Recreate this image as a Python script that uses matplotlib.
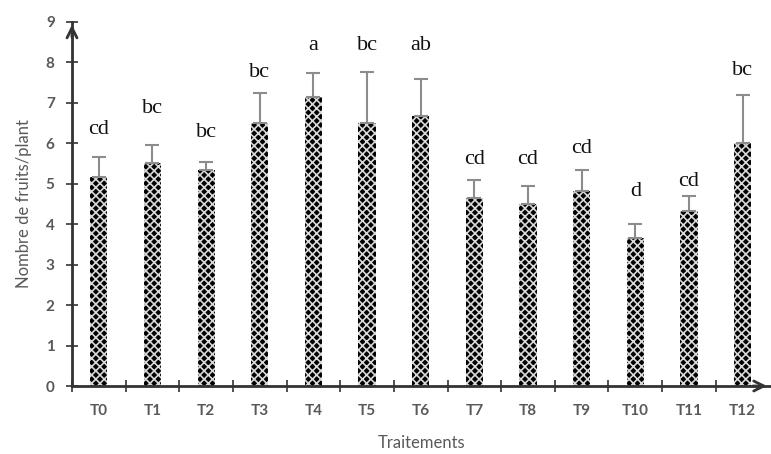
import matplotlib
import numpy as np

matplotlib.use("Agg")
import matplotlib.pyplot as plt

labels = ["T0", "T1", "T2", "T3", "T4", "T5", "T6", "T7", "T8", "T9", "T10", "T11", "T12"]
means = [5.17, 5.51, 5.33, 6.50, 7.15, 6.50, 6.67, 4.65, 4.50, 4.83, 3.65, 4.33, 6.00]
errs = [0.50, 0.45, 0.22, 0.75, 0.60, 1.27, 0.93, 0.45, 0.45, 0.52, 0.35, 0.37, 1.20]
groups = ["cd", "bc", "bc", "bc", "a", "bc", "ab", "cd", "cd", "cd", "d", "cd", "bc"]
# height (in data units) where each letter group sits
group_y = [6.33, 6.87, 6.26, 7.76, 8.43, 8.43, 8.43, 5.61, 5.61, 5.86, 4.80, 5.05, 7.81]

GRAY = "#595959"
DARK = "#333333"
plt.rcParams["font.family"] = ["Lato", "DejaVu Sans"]
plt.rcParams["hatch.linewidth"] = 1.2

fig = plt.figure(figsize=(7.71, 4.54), dpi=100)
ax = fig.add_axes([72 / 771, 68 / 454, (771 - 72) / 771, (386 - 22) / 454])

x = np.arange(len(labels))
ax.bar(x, means, width=0.32, color="black", edgecolor="0.85", hatch="xxxx", linewidth=0)
ax.errorbar(x, means, yerr=[np.zeros(len(x)), errs], fmt="none", ecolor="#8c8c8c",
            elinewidth=1.5, capsize=5, capthick=1.5)
for xi, gy, g in zip(x, group_y, groups):
    ax.text(xi, gy, g, ha="center", va="center", fontsize=16,
            family="Liberation Serif", color="#111111")

ax.set_xlim(-0.5, 12.53); ax.set_ylim(0, 9)
ax.set_yticks(range(10))
ax.set_xticks(x); ax.set_xticklabels(labels)
ax.set_xticks(np.arange(-0.5, 12, 1), minor=True)
ax.tick_params(axis="x", which="major", length=0, pad=13, labelsize=11, labelcolor=GRAY)
ax.tick_params(axis="x", which="minor", length=9, width=1.2, direction="inout", color=DARK)
ax.tick_params(axis="y", length=9, width=1.2, direction="inout", color=DARK,
               labelsize=11, labelcolor=GRAY, pad=8)
for lab in ax.get_xticklabels() + ax.get_yticklabels():
    lab.set_fontweight("bold")

for s in ["top", "right"]:
    ax.spines[s].set_visible(False)
for s in ["left", "bottom"]:
    ax.spines[s].set_linewidth(2); ax.spines[s].set_color(DARK)
ax.annotate("", xy=(0, 1.0), xytext=(0, 0.95), xycoords="axes fraction",
            arrowprops=dict(arrowstyle="->", lw=2, color=DARK, mutation_scale=18))
ax.annotate("", xy=(0.998, 0), xytext=(0.97, 0), xycoords="axes fraction",
            arrowprops=dict(arrowstyle="->", lw=2, color=DARK, mutation_scale=18))

ax.set_ylabel("Nombre de fruits/plant", color=GRAY, fontsize=12, labelpad=10)
ax.set_xlabel("Traitements", color=GRAY, fontsize=12, labelpad=12)

fig.savefig("out.png", dpi=100)
